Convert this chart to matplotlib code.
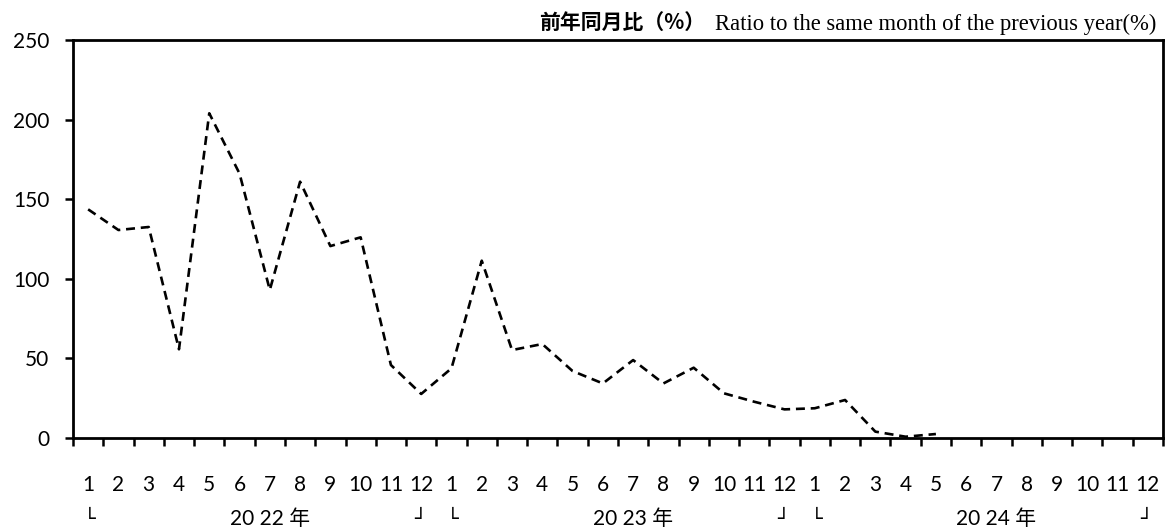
import numpy as np
import matplotlib
matplotlib.use("Agg")
import matplotlib.pyplot as plt

# monthly ratio to same month of previous year (%), Jan 2022 - May 2024
years = ["2022", "2023", "2024"]
months = [str(m) for m in range(1, 13)]
ratio = [143.5, 130.5, 132.4, 55.5, 203.9, 166.0, 92.8, 160.9, 120.4, 125.9, 45.6, 27.4,
         43.5, 111.2, 55.0, 58.8, 41.8, 34.0, 48.7, 34.0, 43.9, 27.8, 22.5, 17.7,
         18.4, 23.6, 3.7, 0.5, 2.2]
yticks = [0, 50, 100, 150, 200, 250]

lab_font = ["Lato", "Noto Sans CJK JP", "DejaVu Sans"]
n_months = len(years) * len(months)

fig = plt.figure(figsize=(11.7, 5.32), dpi=100)
ax = fig.add_axes([0.0624, 0.1776, 0.9316, 0.7472])

x = np.arange(len(ratio))
ax.plot(x, ratio, color="black", lw=1.9, ls=(0, (3.4, 2.2)))

ax.set_xlim(-0.5, n_months - 0.5)
ax.set_ylim(0, 250)
ax.set_yticks(yticks)
ax.set_yticklabels([str(v) for v in yticks], family=lab_font, fontsize=15)
ax.set_xticks(np.arange(n_months + 1) - 0.5)
ax.set_xticklabels([])
ax.tick_params(axis="both", direction="out", length=6, width=1.8, color="black")
ax.tick_params(axis="y", pad=11)
for sp in ax.spines.values():
    sp.set_linewidth(2.0)

tr = ax.get_xaxis_transform()
for i in range(n_months):
    ax.text(i, -0.119, months[i % 12], transform=tr, ha="center", va="center",
            family=lab_font, fontsize=15, clip_on=False)
for k, y in enumerate(years):
    ax.text(k * 12 + 6, -0.205, y[:2] + " " + y[2:] + " 年", transform=tr,
            ha="center", va="center", family=lab_font, fontsize=15, clip_on=False)
    ax.text(k * 12 + 0.05, -0.205, "└", transform=tr, ha="center", va="center",
            family=["DejaVu Sans"], fontsize=14, clip_on=False)
    ax.text(k * 12 + 10.95, -0.205, "┘", transform=tr, ha="center", va="center",
            family=["DejaVu Sans"], fontsize=14, clip_on=False)

fig.text(0.6030, 0.957, "前年同月比（%）", ha="right", va="center",
         family=["Noto Sans CJK JP", "DejaVu Sans"], fontweight="bold", fontsize=15)
fig.text(0.9885, 0.955, "Ratio to the same month of the previous year(%)", ha="right",
         va="center", family=["Liberation Serif"], fontsize=16.3)

fig.savefig("out.png", dpi=100)
